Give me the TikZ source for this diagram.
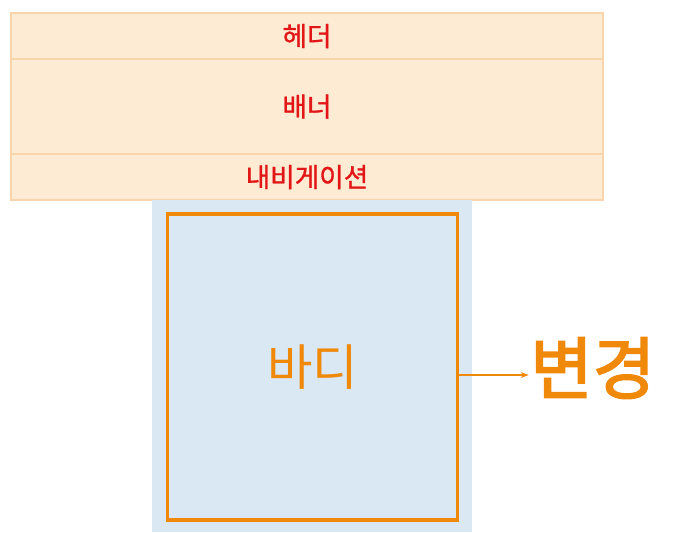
\documentclass[tikz,border=0pt]{standalone}
\usepackage{fontspec}
\setmainfont{Noto Sans CJK KR}
\newfontfamily\labelfont{Noto Sans CJK KR}[FakeBold=1.2]
\newfontfamily\changefont{Noto Sans CJK KR}[FakeBold=2.6]
\usetikzlibrary{arrows.meta,positioning}
\definecolor{barfill}{RGB}{253,235,212}
\definecolor{barline}{RGB}{247,212,170}
\definecolor{bodybg}{RGB}{217,232,243}
\definecolor{bodyorange}{RGB}{240,136,10}
\definecolor{labelred}{RGB}{226,22,22}

\begin{document}
\begin{tikzpicture}[
  x=0.75pt, y=-0.75pt,
  >={Stealth[length=6pt,width=4.5pt]},
  bar/.style={draw=barline, line width=1.2pt, fill=barfill, anchor=north west,
              inner sep=0pt, outer sep=0pt, minimum width=444pt,
              font=\labelfont\fontsize{20}{23}\selectfont, text=labelred},
  e/.style={->, bodyorange, line width=1.1pt, shorten >=1pt},
]
\useasboundingbox (0,0) rectangle (678,532);

\node[bar, minimum height=34.5pt]  (header) at (11,13)  {헤더};
\node[bar, minimum height=71.25pt] (banner) at (11,59)  {배너};
\node[bar, minimum height=34.5pt]  (nav)    at (11,154) {내비게이션};

\node[fill=bodybg, anchor=north west, inner sep=0pt, minimum width=240pt,
      minimum height=249pt] (bodybg) at (152,200) {};
\node[draw=bodyorange, line width=2.3pt, fill=bodybg, inner sep=0pt,
      minimum width=217.5pt, minimum height=229.5pt, text=bodyorange,
      font=\fontsize{37}{41}\selectfont] (body) at (312.5,367) {바디};

\node[text=bodyorange, font=\changefont\fontsize{51}{56}\selectfont,
      anchor=west, inner sep=0pt] (change) at (530,368) {변경};

\draw[e] (body.east) ++(0,8) coordinate (from) -- (from -| change.west);
\end{tikzpicture}
\end{document}
